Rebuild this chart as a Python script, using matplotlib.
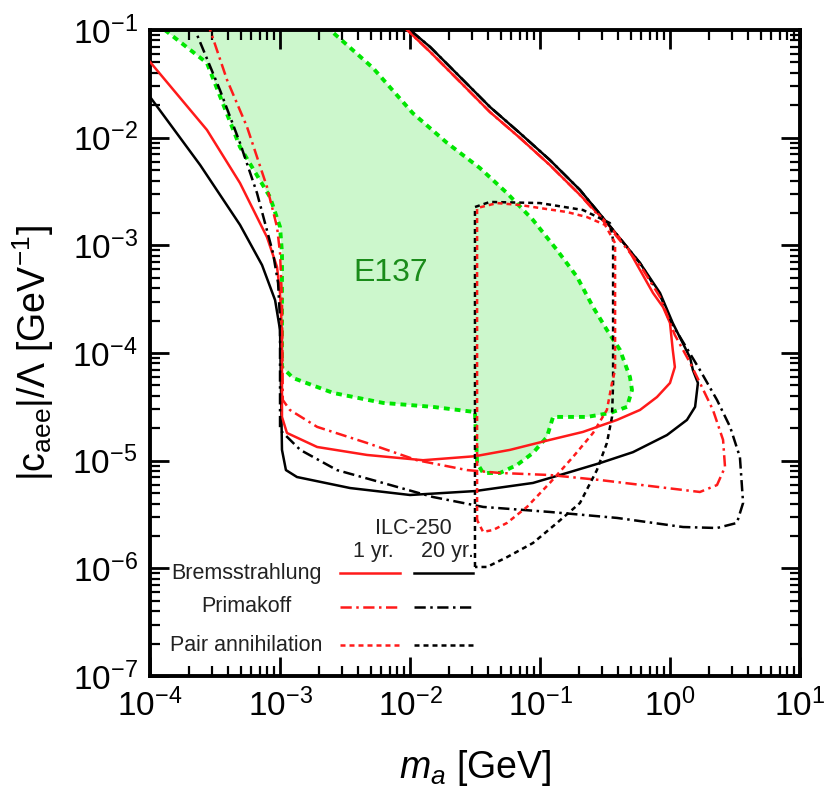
import matplotlib
matplotlib.use("Agg")
import matplotlib.pyplot as plt
import numpy as np

plt.rcParams['font.family'] = ['Liberation Sans', 'DejaVu Sans']
plt.rcParams['mathtext.fontset'] = 'custom'
plt.rcParams['mathtext.rm'] = 'Liberation Sans'
plt.rcParams['mathtext.it'] = 'Liberation Sans:italic'

RED = '#ff1a1a'
BLACK = '#000000'
GREEN_LINE = '#00e600'
GREEN_FILL = '#ccf7cc'

# E137 excluded region (m_a [GeV], |c_aee|/Lambda [GeV^-1])
e137_m = [1.19e-4, 1.30e-4, 2.74e-4, 4.92e-4, 8.37e-4, 1.0e-3, 1.035e-3, 1.035e-3,
          1.26e-3, 2.56e-3, 6.20e-3, 1.50e-2, 3.16e-2, 3.28e-2, 3.65e-2, 4.92e-2,
          6.65e-2, 8.83e-2, 0.113, 0.126, 0.230, 0.345, 0.467, 0.510, 0.492, 0.412,
          0.327, 0.256, 0.193, 0.135, 8.83e-2, 5.57e-2, 3.45e-2, 1.93e-2, 1.05e-2,
          5.19e-3, 2.43e-3, 2.10e-3]
e137_c = [0.124, 0.1, 4.94e-2, 8.19e-3, 2.81e-3, 1.48e-3, 8.49e-4, 7.41e-5,
          5.86e-5, 4.26e-5, 3.44e-5, 3.16e-5, 2.83e-5, 9.51e-6, 7.69e-6, 7.69e-6,
          9.12e-6, 1.18e-5, 1.66e-5, 2.55e-5, 2.55e-5, 2.77e-5, 3.16e-5, 4.53e-5, 5.98e-5, 1.07e-4,
          1.64e-4, 2.67e-4, 5.08e-4, 9.06e-4, 1.72e-3, 3.06e-3, 5.22e-3, 8.93e-3, 1.69e-2,
          4.44e-2, 0.1, 0.119]

# Bremsstrahlung, ILC-250 20 yr.
brems20_m = [1.0e-4, 2.43e-4, 4.92e-4, 7.27e-4, 9.16e-4, 1.0e-3, 1.02e-3, 1.035e-3, 1.11e-3,
             1.35e-3, 3.46e-3, 1.0e-2, 3.16e-2, 8.83e-2, 0.161, 0.290, 0.519, 0.948, 1.35,
             1.56, 1.64, 1.50, 1.43, 1.05, 0.838, 0.588, 0.365, 0.203, 0.119, 7.02e-2,
             4.12e-2, 2.43e-2, 1.43e-2, 1.0e-2, 8.4e-3]
brems20_c = [2.39e-2, 5.57e-3, 1.55e-3, 6.56e-4, 3.10e-4, 1.64e-4, 3.66e-5, 1.26e-5, 8.18e-6,
             7.05e-6, 5.57e-6, 4.80e-6, 5.22e-6, 6.21e-6, 7.69e-6, 9.51e-6, 1.20e-5, 1.73e-5, 2.39e-5,
             3.16e-5, 5.27e-5, 6.95e-5, 8.99e-5, 1.90e-4, 3.61e-4, 6.85e-4, 1.39e-3, 3.27e-3, 6.21e-3, 1.10e-2,
             1.93e-2, 3.66e-2, 6.95e-2, 0.1, 0.119]

# Bremsstrahlung, ILC-250 1 yr.
brems1_m = [1.0e-4, 2.74e-4, 4.92e-4, 7.94e-4, 9.48e-4, 1.0e-3, 1.035e-3, 1.035e-3, 1.13e-3,
            1.93e-3, 4.67e-3, 1.26e-2, 3.16e-2, 5.88e-2, 0.119, 0.214, 0.391, 0.588, 0.794,
            1.0, 1.09, 1.05, 1.0, 0.884, 0.740, 0.588, 0.467, 0.327, 0.203, 0.119, 7.02e-2,
            4.12e-2, 2.43e-2, 1.43e-2, 9.16e-3, 8.4e-3]
brems1_c = [5.05e-2, 1.18e-2, 3.79e-3, 1.19e-3, 6.29e-4, 3.61e-4, 1.53e-4, 2.55e-5, 1.81e-5,
            1.34e-5, 1.13e-5, 1.01e-5, 1.10e-5, 1.26e-5, 1.56e-5, 1.85e-5, 2.39e-5, 2.96e-5, 3.90e-5,
            5.27e-5, 7.41e-5, 1.07e-4, 1.90e-4, 2.67e-4, 3.61e-4, 5.90e-4, 9.66e-4, 1.61e-3, 2.94e-3, 5.57e-3, 9.93e-3,
            1.73e-2, 3.29e-2, 6.25e-2, 0.1045, 0.119]

# Primakoff, ILC-250 20 yr.
prima20_m = [2.03e-4, 2.22e-4, 3.45e-4, 4.92e-4, 6.65e-4, 8.83e-4, 9.66e-4, 1.0e-3, 1.0e-3,
             1.43e-3, 2.74e-3, 6.20e-3, 1.50e-2, 3.65e-2, 0.119, 0.391, 1.26, 2.30, 3.27,
             3.65, 3.45, 2.90, 2.30, 1.70, 1.05, 0.838, 0.588, 0.365, 0.203, 0.119, 7.02e-2,
             4.12e-2, 2.43e-2, 1.43e-2, 1.0e-2, 8.4e-3]
prima20_c = [0.119, 0.1, 2.77e-2, 8.93e-3, 3.06e-3, 8.49e-4, 4.47e-4, 2.03e-4, 1.93e-5,
             1.26e-5, 8.18e-6, 6.21e-6, 4.60e-6, 3.72e-6, 3.34e-6, 2.94e-6, 2.42e-6, 2.37e-6, 2.64e-6,
             4.05e-6, 1.08e-5, 2.06e-5, 3.66e-5, 6.95e-5, 1.82e-4, 3.44e-4, 6.85e-4, 1.39e-3, 3.27e-3, 6.21e-3, 1.10e-2,
             1.93e-2, 3.66e-2, 6.95e-2, 0.1, 0.119]

# Primakoff, ILC-250 1 yr.
prima1_m = [2.65e-4, 2.90e-4, 3.91e-4, 5.57e-4, 7.94e-4, 9.48e-4, 1.0e-3, 1.035e-3, 1.05e-3,
            1.19e-3, 1.93e-3, 4.67e-3, 1.13e-2, 2.74e-2, 4.92e-2, 0.119, 0.290, 0.948, 1.70,
            2.30, 2.65, 2.56, 2.14, 1.70, 1.43, 1.09, 0.838, 0.588, 0.365, 0.203, 0.119,
            7.02e-2, 4.12e-2, 2.43e-2, 1.43e-2, 9.16e-3, 8.4e-3]
prima1_c = [0.119, 0.1, 3.44e-2, 1.26e-2, 3.48e-3, 1.48e-3, 8.49e-4, 3.10e-4, 3.66e-5,
            2.96e-5, 2.06e-5, 1.46e-5, 1.01e-5, 8.18e-6, 7.69e-6, 7.36e-6, 6.61e-6, 5.57e-6, 5.12e-6,
            5.94e-6, 8.73e-6, 1.56e-5, 2.96e-5, 5.27e-5, 8.07e-5, 1.47e-4, 3.31e-4, 6.56e-4, 1.33e-3, 2.94e-3, 5.57e-3,
            9.93e-3, 1.73e-2, 3.29e-2, 6.25e-2, 0.1045, 0.119]

# Pair annihilation, ILC-250 20 yr.
pair20_m = [3.16e-2, 3.16e-2, 4.12e-2, 0.1, 0.214, 0.345, 0.365, 0.365, 0.358, 0.327,
            0.274, 0.203, 0.135, 8.83e-2, 5.57e-2, 3.91e-2, 3.28e-2, 3.16e-2]
pair20_c = [1.03e-6, 2.27e-3, 2.53e-3, 2.47e-3, 2.13e-3, 1.61e-3, 1.12e-3, 5.27e-5, 2.55e-5, 1.46e-5,
            8.18e-6, 4.05e-6, 2.64e-6, 1.72e-6, 1.27e-6, 1.03e-6, 1.03e-6, 1.03e-6]

# Pair annihilation, ILC-250 1 yr.
pair1_m = [3.28e-2, 3.28e-2, 4.67e-2, 7.02e-2, 0.1, 0.161, 0.230, 0.316, 0.378, 0.378,
           0.358, 0.327, 0.256, 0.179, 0.119, 7.94e-2, 5.57e-2, 4.35e-2, 3.65e-2, 3.28e-2]
pair1_c = [2.81e-6, 2.22e-3, 2.47e-3, 2.37e-3, 2.22e-3, 2.04e-3, 1.83e-3, 1.55e-3, 1.05e-3, 6.95e-5,
           5.27e-5, 2.96e-5, 1.81e-5, 1.08e-5, 6.21e-6, 3.72e-6, 2.64e-6, 2.27e-6, 2.18e-6, 2.81e-6]

legend_rows = ['Bremsstrahlung', 'Primakoff', 'Pair annihilation']

fig = plt.figure(figsize=(8.29, 7.94), dpi=100)
ax = fig.add_axes([0.181, 0.1486, 0.784, 0.8136])

LW = 1.8
DASHDOT = (4.5, 1.8, 1, 1.8)
DOTTED = (2.0, 1.6)

# E137
ax.fill(e137_m, e137_c, color=GREEN_FILL, lw=0, zorder=1)
ax.plot(e137_m, e137_c, color=GREEN_LINE, lw=2.8, dashes=(1.5, 1.3), zorder=2)
ax.text(0.371, 0.624, 'E137', transform=ax.transAxes, color='#1a8c1a',
        fontsize=23, ha='center', va='center')

curves = [
    (brems20_m, brems20_c, BLACK, None),
    (brems1_m, brems1_c, RED, None),
    (prima20_m, prima20_c, BLACK, DASHDOT),
    (prima1_m, prima1_c, RED, DASHDOT),
    (pair20_m, pair20_c, BLACK, DOTTED),
    (pair1_m, pair1_c, RED, DOTTED),
]
for m, c, col, ds in curves:
    if ds is None:
        ax.plot(m, c, color=col, lw=LW, zorder=3)
    else:
        ax.plot(m, c, color=col, lw=LW, dashes=ds, zorder=3)

ax.set_xscale('log')
ax.set_yscale('log')
ax.set_xlim(1e-4, 1e1)
ax.set_ylim(1e-7, 1e-1)

# hand-made legend
TXT = '#222222'
ax.text(0.405, 0.229, 'ILC-250', transform=ax.transAxes, fontsize=15.5,
        ha='center', va='center', color=TXT)
ax.text(0.343, 0.193, '1 yr.', transform=ax.transAxes, fontsize=15.5,
        ha='center', va='center', color=TXT)
ax.text(0.457, 0.193, '20 yr.', transform=ax.transAxes, fontsize=15.5,
        ha='center', va='center', color=TXT)
row_y = [0.159, 0.107, 0.048]
row_ds = [None, DASHDOT, DOTTED]
for name, y, ds in zip(legend_rows, row_y, row_ds):
    ax.text(0.148, y, name, transform=ax.transAxes, fontsize=15.5,
            ha='center', va='center', color=TXT)
    for (x0, x1), col in [((0.292, 0.385), RED), ((0.406, 0.497), BLACK)]:
        kw = {} if ds is None else {'dashes': ds}
        ax.plot([x0, x1], [y, y], transform=ax.transAxes, color=col, lw=LW, **kw)

ax.set_xlabel(r'$m_a$ [GeV]', fontsize=27, labelpad=18)
ax.set_ylabel(r'$|\mathrm{c}_{\rm aee}|/\Lambda$ [GeV$^{-1}$]', fontsize=27, labelpad=12)

for s in ax.spines.values():
    s.set_linewidth(2.8)
ax.tick_params(which='both', direction='in', top=True, right=True)
ax.tick_params(which='major', length=14, width=2.0, labelsize=24, pad=9)
ax.tick_params(which='minor', length=7, width=1.6)
ax.xaxis.set_minor_locator(matplotlib.ticker.LogLocator(base=10, subs=np.arange(2, 10), numticks=20))
ax.yaxis.set_minor_locator(matplotlib.ticker.LogLocator(base=10, subs=np.arange(2, 10), numticks=20))
ax.xaxis.set_minor_formatter(matplotlib.ticker.NullFormatter())
ax.yaxis.set_minor_formatter(matplotlib.ticker.NullFormatter())

fig.savefig('out.png', dpi=100)
